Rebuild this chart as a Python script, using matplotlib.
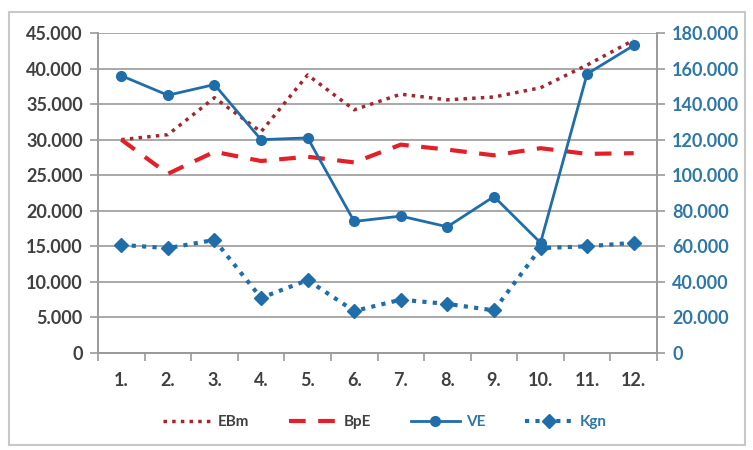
import matplotlib.pyplot as plt
from matplotlib.patches import Rectangle
from matplotlib.ticker import FuncFormatter, FixedLocator

# data
months = ["1.", "2.", "3.", "4.", "5.", "6.", "7.", "8.", "9.", "10.", "11.", "12."]
ebm = [30000, 30700, 35900, 31100, 39100, 34200, 36400, 35600, 36000, 37300, 40500, 44000]
bpe = [30000, 25200, 28300, 27000, 27600, 26800, 29300, 28600, 27800, 28800, 28000, 28100]
ve = [156000, 145000, 151000, 120000, 121000, 74000, 77000, 71000, 88000, 62000, 157000, 173000]
kgn = [60800, 59000, 63600, 31000, 41000, 23600, 30000, 27600, 24000, 59000, 60000, 62000]

plt.rcParams['font.family'] = ['Lato', 'DejaVu Sans']

def thousands(v, pos):
    return "0" if v == 0 else f"{int(v):,}".replace(",", ".")

fig = plt.figure(figsize=(7.53, 4.5), dpi=100)
fig.patches.append(Rectangle((9 / 753, 5 / 450), 736 / 753, 433 / 450, transform=fig.transFigure,
                             fill=False, edgecolor="#c8c8c8", linewidth=1.5))

ax1 = fig.add_axes([98 / 753, 97 / 450, 559 / 753, 320 / 450])
ax2 = ax1.twinx()
x = list(range(len(months)))

grid_c = "#9a9a9a"
ax1.set_ylim(0, 45000)
ax1.set_yticks(range(0, 45001, 5000))
ax1.yaxis.set_major_formatter(FuncFormatter(thousands))
ax1.grid(axis="y", color=grid_c, linewidth=1.2)
ax1.set_axisbelow(True)
ax2.set_ylim(0, 180000)
ax2.set_yticks(range(0, 180001, 20000))
ax2.yaxis.set_major_formatter(FuncFormatter(thousands))

ax1.set_xlim(-0.5, 11.5)
ax1.set_xticks(x)
ax1.set_xticklabels(months)
ax1.xaxis.set_minor_locator(FixedLocator([i - 0.5 for i in range(13)]))
ax1.tick_params(axis="x", which="major", length=0, pad=14, labelsize=13, labelcolor="#404040")
ax1.tick_params(axis="x", which="minor", length=6, width=1.2, color=grid_c)
ax1.tick_params(axis="y", length=6, width=1.2, color=grid_c, labelsize=13, labelcolor="#404040", pad=5)
ax2.tick_params(axis="y", length=6, width=1.2, color=grid_c, labelsize=13, labelcolor="#2e77a8", pad=5)
for lbl in ax1.get_xticklabels() + ax1.get_yticklabels() + ax2.get_yticklabels():
    lbl.set_fontweight("bold")

for a in (ax1, ax2):
    a.spines["top"].set_visible(False)
    for s in ("left", "right", "bottom"):
        a.spines[s].set_color(grid_c)
        a.spines[s].set_linewidth(1.2)

l1, = ax1.plot(x, ebm, color="#a3262f", linestyle=(0, (1, 1.5)), linewidth=2.5, label="EBm")
l2, = ax1.plot(x, bpe, color="#e3202a", linestyle=(0, (4, 3)), linewidth=3, label="BpE")
l3, = ax2.plot(x, ve, color="#1f6eaa", linewidth=2, marker="o", markersize=7, label="VE")
l4, = ax2.plot(x, kgn, color="#1f6eaa", linestyle=(0, (1, 1.5)), linewidth=3, marker="D",
               markersize=7, label="Kgn")

leg = fig.legend(handles=[l1, l2, l3, l4], loc="center", bbox_to_anchor=(0.511, 0.062), ncol=4,
                 frameon=False, fontsize=11, handlelength=3.2, handletextpad=0.4,
                 columnspacing=2.6)
for t, c in zip(leg.get_texts(), ["#404040", "#404040", "#2e77a8", "#2e77a8"]):
    t.set_color(c)
    t.set_fontweight("bold")

fig.savefig("out.png", dpi=100)
